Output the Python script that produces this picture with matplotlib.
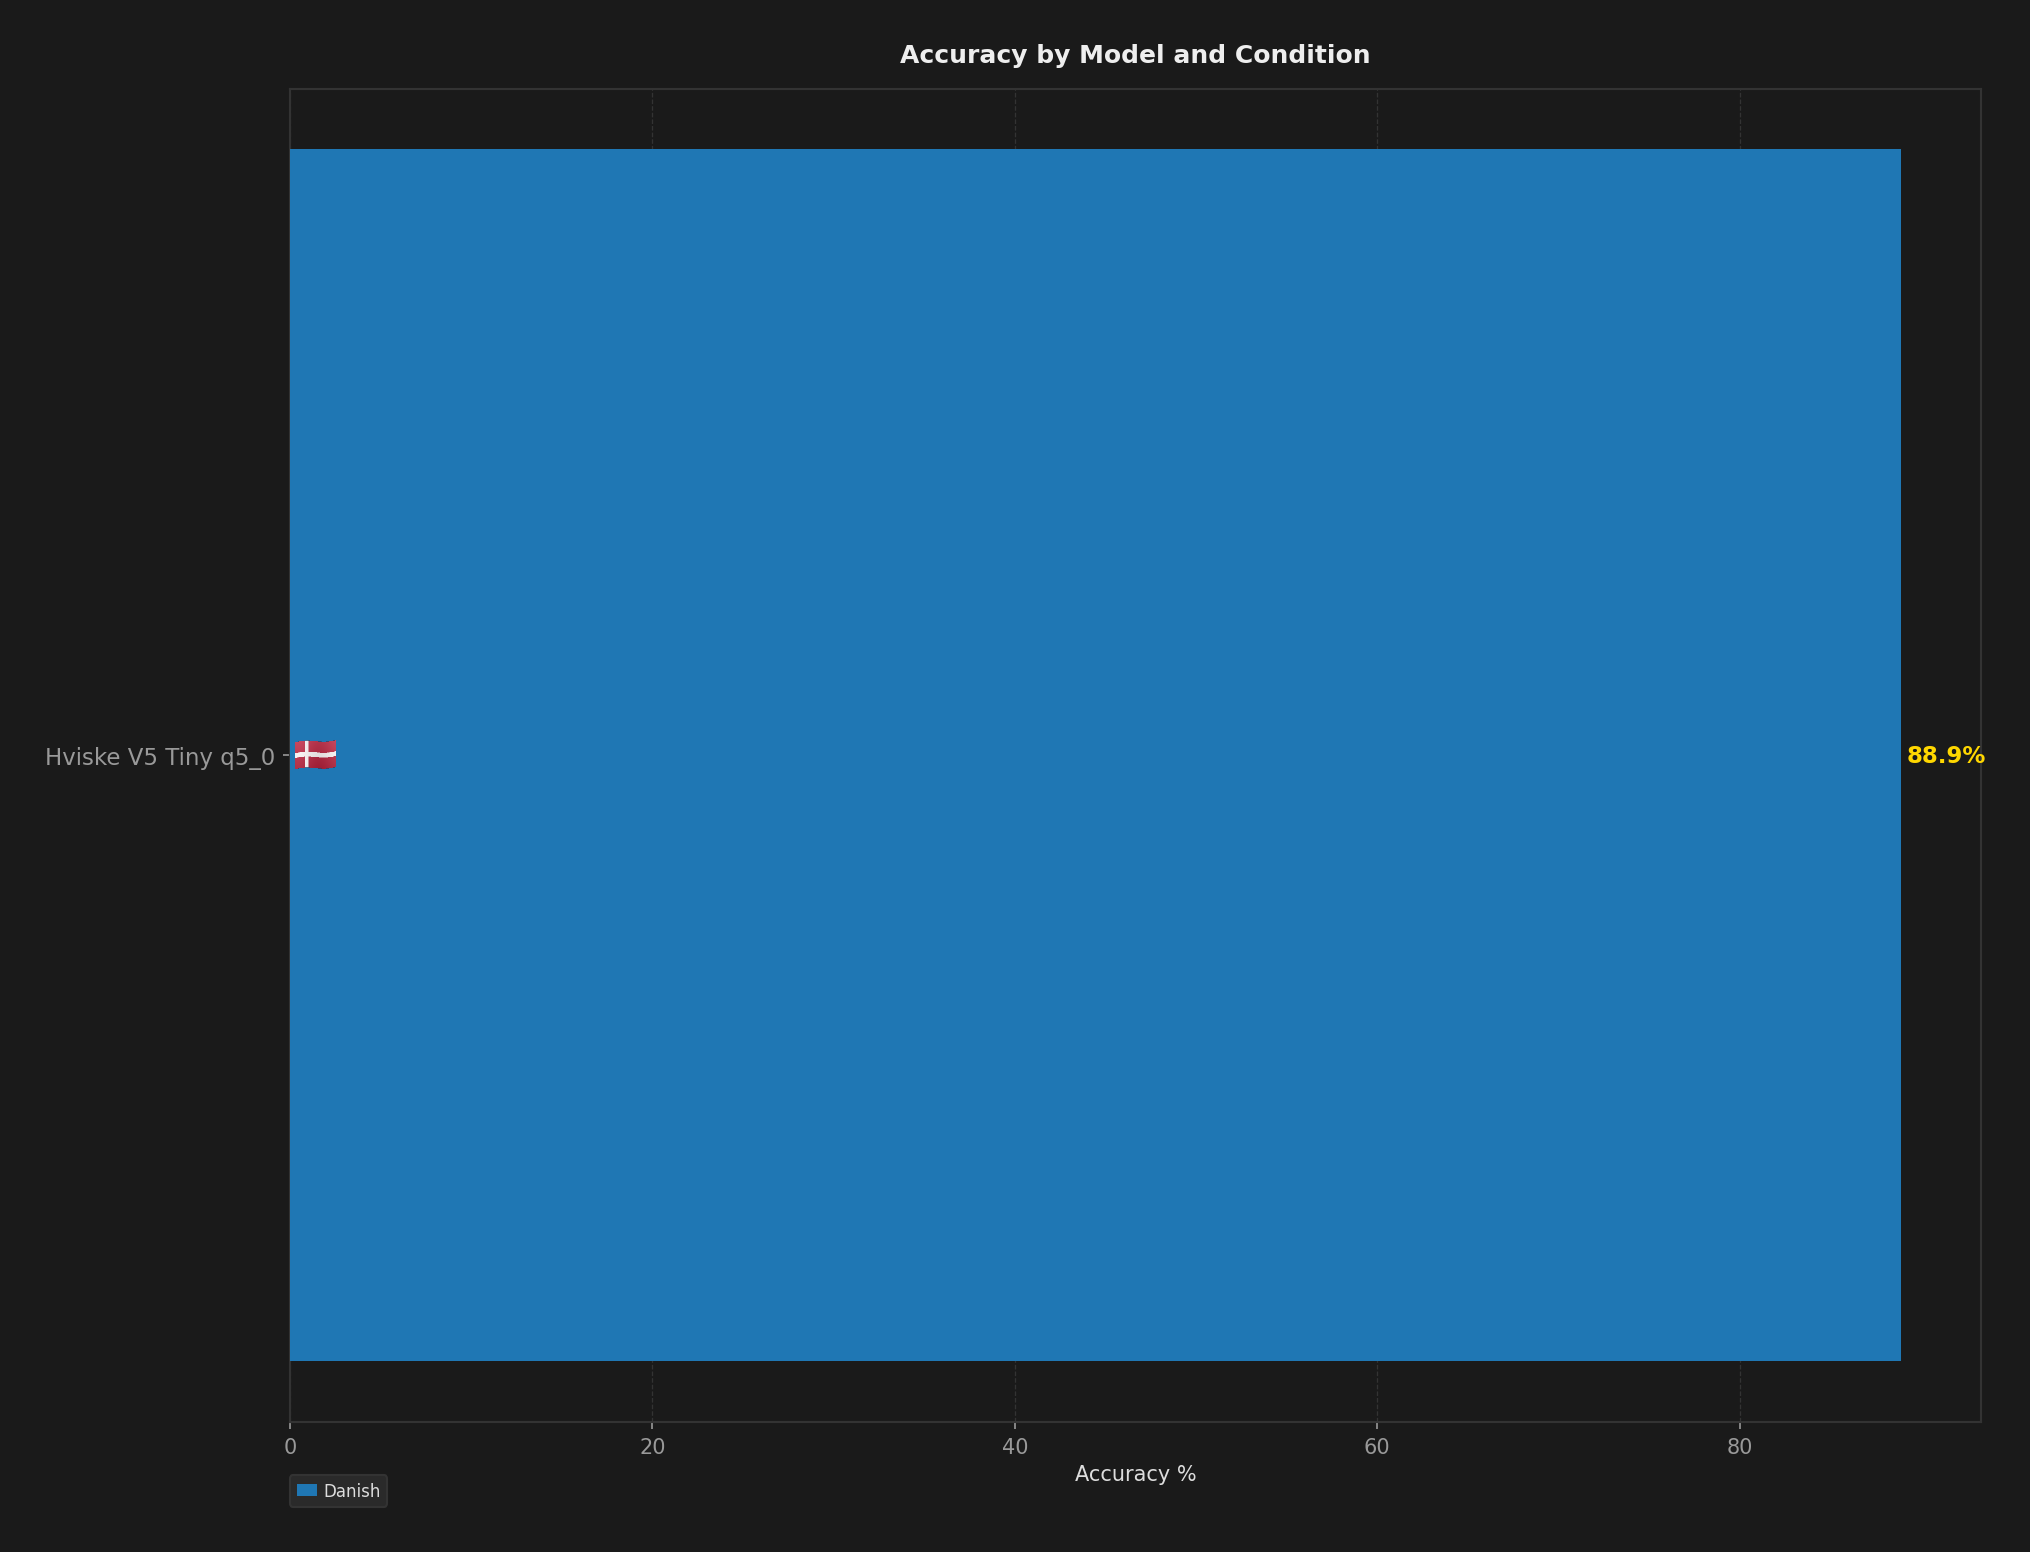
import numpy as np
import matplotlib
matplotlib.use('Agg')
import matplotlib.pyplot as plt
from matplotlib.offsetbox import OffsetImage, AnnotationBbox

models = ['Hviske V5 Tiny q5_0']
accuracy = [88.9]
condition = 'Danish'
xticks_vals = [0, 20, 40, 60, 80]

BG = '#1a1a1a'
GRID = '#333333'
MUTED = '#999999'
SS = 4  # flag is painted at 4x then scaled down


# no emoji font here, so paint the little waving flag as an image
def make_flag(w=41, h=31):
    W, H = w * SS, h * SS
    img = np.zeros((H, W, 4))
    for col in range(W):
        t = col / (W - 1)
        shift = SS * (-1.0 * np.sin(t * 2 * np.pi) - 2.0 * t + 1.0)
        shade = 0.04 * np.sin(t * 2 * np.pi + 1.0)
        for row in range(H):
            yy = row - shift
            if 2.0 * SS <= yy <= H - 2.0 * SS:
                c = np.array([0.70, 0.20, 0.29]) + shade
                c = c - 0.10 * (yy / H - 0.5)
                if abs(yy - H / 2) < 2.4 * SS or abs(col - 11.5 * SS) < 1.8 * SS:
                    c = np.array([0.93, 0.91, 0.91]) + shade
                img[row, col, :3] = np.clip(c, 0, 1)
                img[row, col, 3] = 1
    return img


fig, ax = plt.subplots(figsize=(13.54, 10.353), dpi=150, facecolor=BG)
fig.subplots_adjust(left=290 / 2031, right=1981.5 / 2031, top=1 - 89.5 / 1553, bottom=1 - 1423.1 / 1553)
ax.set_facecolor(BG)

bars = ax.barh(models, accuracy, color='#1f77b4', label=condition, zorder=3)
ax.set_xlim(0, max(accuracy) * 1.05)
ax.set_xticks(xticks_vals)

ax.grid(axis='x', color=GRID, linestyle='--', linewidth=0.6, zorder=0)
for s in ax.spines.values():
    s.set_color(GRID)
    s.set_linewidth(1.0)
ax.tick_params(axis='x', colors=MUTED, labelsize=10)
ax.tick_params(axis='y', colors=MUTED, labelsize=11)

ax.set_title('Accuracy by Model and Condition', color='#eeeeee', fontsize=12, fontweight='bold', pad=12.5)
ax.set_xlabel('Accuracy %', color='#dddddd', fontsize=10, labelpad=3.5)

for bar, val in zip(bars, accuracy):
    ax.text(val + 0.3, bar.get_y() + bar.get_height() / 2, f'{val:.1f}%',
            color='#ffd700', fontsize=11, fontweight='bold', va='center', ha='left', zorder=5)

flag = OffsetImage(make_flag(), zoom=72 / 150 / SS, interpolation='antialiased')
ab = AnnotationBbox(flag, (0, 0), xybox=(25.5 * 72 / 150, 0.2), xycoords='data', boxcoords='offset points',
                    frameon=False, zorder=6, annotation_clip=False, pad=0)
ax.add_artist(ab)

leg = ax.legend(loc='upper left', bbox_to_anchor=(0, -0.04), borderaxespad=0, fontsize=8, handlelength=1.2,
                handletextpad=0.4, facecolor='#2a2a2a', edgecolor=GRID, framealpha=1)
for t in leg.get_texts():
    t.set_color('#dddddd')

fig.savefig('out.png', dpi=150, facecolor=BG)
